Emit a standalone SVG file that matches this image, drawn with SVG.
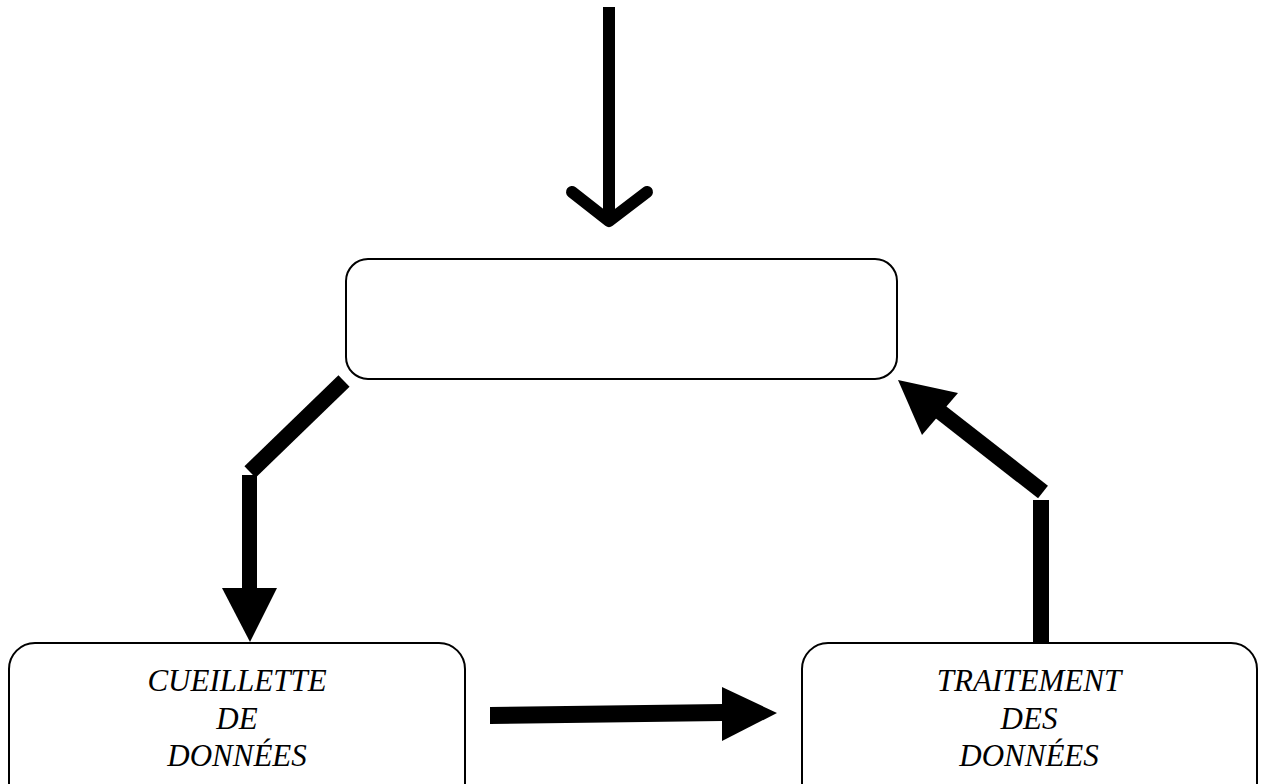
<svg xmlns="http://www.w3.org/2000/svg" width="1264" height="784" viewBox="0 0 1264 784">
<style>
.box{fill:#fff;stroke:#000;stroke-width:2}
.lbl{font-family:"Liberation Serif","Times New Roman",serif;font-style:italic;font-size:31px;fill:#000;text-anchor:middle}
.thick{stroke:#000;fill:none;stroke-linecap:butt}
.head{fill:#000;stroke:none}
</style>
<rect width="1264" height="784" fill="#fff"/>
<g id="connectors">
  <g id="top-arrow">
    <line x1="609" y1="7" x2="609" y2="224" stroke="#000" stroke-width="12"/>
    <polyline points="572,192 609,221 647,192" fill="none" stroke="#000" stroke-width="12" stroke-linecap="round" stroke-linejoin="round"/>
  </g>
  <g id="left-arrow">
    <line class="thick" x1="344" y1="381" x2="250" y2="472" stroke-width="16"/>
    <line class="thick" x1="249.5" y1="475" x2="249.5" y2="590" stroke-width="15"/>
    <polygon class="head" points="222,588 277,588 250,642"/>
  </g>
  <g id="bottom-arrow">
    <polygon class="head" points="490,707 723,704 723,721 490,724"/>
    <polygon class="head" points="722,687 777,713 722,741"/>
  </g>
  <g id="right-arrow">
    <line class="thick" x1="1041" y1="500" x2="1041" y2="645" stroke-width="16"/>
    <line class="thick" x1="1043" y1="492" x2="938" y2="410" stroke-width="16"/>
    <polygon class="head" points="898,380 958,393 922,435"/>
  </g>
</g>
<g id="node-top">
  <rect class="box" x="346" y="259" width="551" height="120" rx="22" ry="22"/>
</g>
<g id="node-cueillette">
  <rect class="box" x="9" y="643" width="456" height="170" rx="26" ry="26"/>
  <text class="lbl" x="237" y="691">CUEILLETTE</text>
  <text class="lbl" x="237" y="729">DE</text>
  <text class="lbl" x="237" y="766">DONNÉES</text>
</g>
<g id="node-traitement">
  <rect class="box" x="802" y="643" width="455" height="170" rx="26" ry="26"/>
  <text class="lbl" x="1029" y="691">TRAITEMENT</text>
  <text class="lbl" x="1029" y="729">DES</text>
  <text class="lbl" x="1029" y="766">DONNÉES</text>
</g>
</svg>
